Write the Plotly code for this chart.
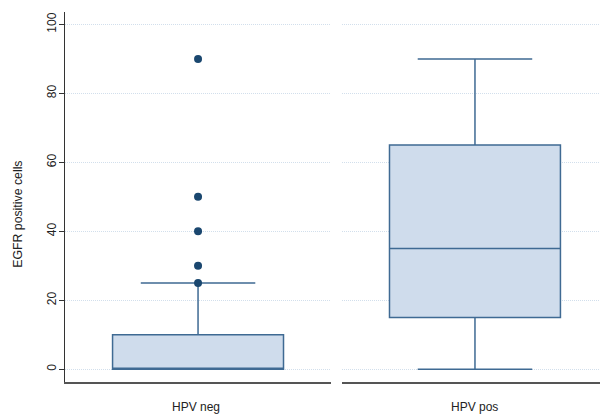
import plotly.graph_objects as go

# Data
categories = ["HPV neg", "HPV pos"]
q1_vals = [0, 15]
median_vals = [0, 35]
q3_vals = [10, 65]
lower_whisker = [0, 0]
upper_whisker = [25, 90]
outliers_neg = [25, 30, 40, 50, 90]
outliers_pos = []
y_ticks = [0, 20, 40, 60, 80, 100]
y_title = "EGFR positive cells"

box_fill = "#cfdcec"
box_line = "#3f6a93"
dot_color = "#1a476f"
grid_color = "#d2dfec"

fig = go.Figure()
outliers = [outliers_neg, outliers_pos]
for i, cat in enumerate(categories):
    xa = "x" if i == 0 else "x2"
    ya = "y" if i == 0 else "y2"
    fig.add_trace(go.Box(
        x=[0], q1=[q1_vals[i]], median=[median_vals[i]], q3=[q3_vals[i]],
        lowerfence=[lower_whisker[i]], upperfence=[upper_whisker[i]],
        width=1.285, whiskerwidth=0.67, boxpoints=False,
        fillcolor=box_fill, line=dict(color=box_line, width=1.5),
        xaxis=xa, yaxis=ya, name=cat, showlegend=False,
    ))
    if outliers[i]:
        fig.add_trace(go.Scatter(
            x=[0] * len(outliers[i]), y=outliers[i], mode="markers",
            marker=dict(color=dot_color, size=8), xaxis=xa, yaxis=ya,
            showlegend=False,
        ))

font_family = "Liberation Sans, Arial, sans-serif"
xcommon = dict(range=[-1, 1], showgrid=False, zeroline=False, showticklabels=False,
               ticks="", showline=True, linecolor="#555555", linewidth=2,
               fixedrange=True, automargin=False)
yrange = [-3.7, 103.6]
fig.update_layout(
    width=600, height=406,
    margin=dict(l=57, r=0, t=4, b=32),
    paper_bgcolor="white", plot_bgcolor="white",
    font=dict(family=font_family, size=12, color="#222222"),
    xaxis=dict(domain=[0, 0.49], anchor="y", **xcommon),
    xaxis2=dict(domain=[0.51, 1], anchor="y2", **xcommon),
    yaxis=dict(
        range=yrange, tickvals=y_ticks, ticktext=[str(v) for v in y_ticks],
        tickangle=-90, ticks="outside", ticklen=5, tickcolor="#333333",
        showline=True, linecolor="#333333", linewidth=1.3,
        showgrid=True, gridcolor=grid_color, griddash="1px,1px", gridwidth=1,
        zeroline=False, tickfont=dict(size=12), automargin=False, anchor="x",
        ticklabelstandoff=-2,
    ),
    yaxis2=dict(range=yrange, tickvals=y_ticks, showticklabels=False,
                anchor="x2", showgrid=True, gridcolor=grid_color, griddash="1px,1px",
                gridwidth=1, zeroline=False, showline=False, automargin=False),
)

# y-axis title as rotated annotation
fig.add_annotation(text=y_title, x=-0.087, xref="paper", y=0.454, yref="paper",
                   textangle=-90, showarrow=False, font=dict(size=12.3),
                   xanchor="center", yanchor="middle")

xpos = [0.242, 0.755]
for i, cat in enumerate(categories):
    fig.add_annotation(text=cat, x=xpos[i], xref="paper", y=-0.068, yref="paper",
                       showarrow=False, font=dict(size=12),
                       xanchor="center", yanchor="middle")

fig.write_html("out.html")
